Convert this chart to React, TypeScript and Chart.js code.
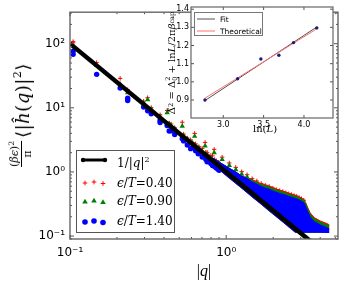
import React, { useEffect, useRef } from 'react';
import { Chart, registerables } from 'chart.js';

Chart.register(...registerables);

// ---------- main plot data ----------
const lineQ = [0.1, 4.441];
const lineV = [100, 0.0507];

const discQ = [0.1047, 0.1481, 0.2094, 0.2341, 0.2961, 0.3141, 0.3311, 0.3775, 0.4188, 0.4317, 0.4442, 0.4682, 0.5235, 0.5339, 0.5638, 0.5923, 0.6105, 0.6282, 0.6369, 0.6622, 0.6704, 0.7023, 0.7329, 0.7403, 0.755, 0.7622, 0.7974, 0.8177, 0.8441, 0.8634, 0.8884, 0.8946, 0.9007];
const discRed = [108, 50.7, 28.8, 19.2, 12.7, 14.4, 10.1, 7.8, 9.1, 5.8, 5.6, 4.9, 5.96, 3.9, 3.38, 3.17, 2.88, 3.99, 2.74, 2.45, 2.47, 2.33, 2.89, 2.03, 2.02, 1.85, 1.81, 1.78, 1.56, 1.5, 1.42, 1.4, 1.37];
const discGreen = [94.5, 46.0, 23.4, 17.2, 11.9, 13.4, 9.5, 7.3, 8.4, 5.6, 5.3, 4.75, 5.18, 3.65, 3.28, 2.97, 2.79, 3.6, 2.57, 2.37, 2.32, 2.11, 2.55, 1.9, 1.83, 1.79, 1.64, 1.56, 1.46, 1.4, 1.32, 1.3, 1.28];
const discBlue = [76.6, 33.3, 20.3, 14.1, 10.3, 9.0, 8.1, 6.4, 5.3, 4.35, 4.4, 3.84, 3.3, 3.05, 2.63, 2.31, 2.42, 2.45, 2.14, 1.92, 2.0, 1.71, 1.8, 1.58, 1.44, 1.55, 1.36, 1.26, 1.22, 1.15, 1.1, 1.12, 1.06];

const extraRedQ = [0.1047];
const extraRedV = [103];
const extraBlueQ = [0.1047, 0.2341, 0.3775];
const extraBlueV = [68.4, 13.0, 5.9];

const peakQ = [0.8376, 0.9423, 1.047, 1.152, 1.257, 1.361, 1.466, 1.571, 1.675, 1.78, 1.885, 1.99, 2.094, 2.199, 2.304, 2.408, 2.513, 2.618, 2.723, 2.827, 2.932, 3.037, 3.142];
const peakGreen = [2.0, 1.56, 1.268, 1.087, 0.923, 0.83, 0.722, 0.662, 0.607, 0.568, 0.545, 0.513, 0.487, 0.468, 0.454, 0.435, 0.419, 0.406, 0.393, 0.382, 0.366, 0.35, 0.332];
const peakRed = [2.25, 1.7, 1.38, 1.18, 1.01, 0.905, 0.787, 0.722, 0.662, 0.619, 0.594, 0.559, 0.531, 0.51, 0.495, 0.474, 0.457, 0.443, 0.428, 0.416, 0.399, 0.382, 0.362];

const bandQ = [0.8, 0.8376, 0.9423, 1.047, 1.152, 1.257, 1.361, 1.466, 1.571, 1.675, 1.78, 1.885, 1.99, 2.094, 2.199, 2.304, 2.408, 2.513, 2.618, 2.723, 2.78, 2.827, 2.932, 3.037, 3.142, 3.233, 3.33, 3.455, 3.665, 4.005, 4.441, 4.575];
const bandBlueTop = [1.62, 1.598, 1.332, 1.142, 0.997, 0.86, 0.788, 0.698, 0.644, 0.594, 0.558, 0.537, 0.505, 0.481, 0.463, 0.449, 0.432, 0.416, 0.403, 0.39, 0.384, 0.379, 0.364, 0.348, 0.33, 0.285, 0.239, 0.197, 0.168, 0.149, 0.134, 0.13];
const bandGreenTop = [1.62, 1.598, 1.332, 1.142, 0.997, 0.86, 0.802, 0.723, 0.674, 0.628, 0.603, 0.58, 0.545, 0.519, 0.5, 0.485, 0.467, 0.449, 0.435, 0.421, 0.415, 0.409, 0.393, 0.376, 0.356, 0.316, 0.265, 0.219, 0.186, 0.165, 0.149, 0.144];
const bandRedTop = [1.62, 1.598, 1.332, 1.142, 0.997, 0.86, 0.818, 0.756, 0.704, 0.656, 0.63, 0.606, 0.57, 0.542, 0.523, 0.507, 0.488, 0.469, 0.455, 0.44, 0.434, 0.427, 0.411, 0.393, 0.372, 0.33, 0.277, 0.229, 0.194, 0.172, 0.156, 0.15];
const bandBottom = [1.358, 1.238, 0.979, 0.793, 0.655, 0.55, 0.469, 0.404, 0.352, 0.31, 0.274, 0.2446, 0.2195, 0.1982, 0.1797, 0.1637, 0.1499, 0.1376, 0.1268, 0.1172, 0.1125, 0.1125, 0.1125, 0.1125, 0.1125, 0.1125, 0.1125, 0.1125, 0.1125, 0.1122, 0.112, 0.112];

const mainXTickVals = [0.1, 1];
const mainXTickLabels = ['10⁻¹', '10⁰'];
const mainYTickVals = [0.1, 1, 10, 100];
const mainYTickLabels = ['10⁻¹', '10⁰', '10¹', '10²'];
const epsLabels = ['0.40', '0.90', '1.40'];

// ---------- inset data ----------
const lnL = [2.773, 3.178, 3.466, 3.689, 3.871, 4.159];
const gapSq = [0.9, 1.017, 1.126, 1.146, 1.216, 1.297];
const fitX = [2.773, 4.159];
const fitY = [0.897, 1.302];
const theoX = [2.773, 4.159];
const theoY = [0.91, 1.292];
const insetXTickVals = [3.0, 3.5, 4.0];
const insetXTickLabels = ['3.0', '3.5', '4.0'];
const insetYTickVals = [0.9, 1.0, 1.1, 1.2, 1.3, 1.4];
const insetYTickLabels = ['0.9', '1.0', '1.1', '1.2', '1.3', '1.4'];

const zip = (xs: number[], ys: number[]) => xs.map((x, i) => ({ x, y: ys[i] }));
const labelFor = (v: number, vals: number[], labels: string[]) => {
  const i = vals.findIndex((t) => Math.abs(v - t) <= Math.abs(t) * 1e-6);
  return i >= 0 ? labels[i] : '';
};

const RED = '#ff0000';
const GREEN = '#008000';
const BLUE = '#0000ff';

const seg = (ctx: CanvasRenderingContext2D, x1: number, y1: number, x2: number, y2: number) => {
  ctx.beginPath();
  ctx.moveTo(x1, y1);
  ctx.lineTo(x2, y2);
  ctx.stroke();
};

const mainDecor = {
  id: 'mainDecor',
  afterDatasetsDraw(chart: any) {
    const { ctx, chartArea: a, scales } = chart;
    const xs = scales.x;
    const ys = scales.y;
    ctx.save();
    ctx.strokeStyle = '#555';
    ctx.lineWidth = 1;
    for (let e = -1; e <= 0; e++) {
      for (let m = 1; m <= 9; m++) {
        const v = m * Math.pow(10, e);
        if (v < 0.1 || v > 5.2) continue;
        const px = xs.getPixelForValue(v);
        const len = m === 1 ? 4 : 2;
        seg(ctx, px, a.bottom, px, a.bottom - len);
        seg(ctx, px, a.top, px, a.top + len);
      }
    }
    for (let e = -2; e <= 2; e++) {
      for (let m = 1; m <= 9; m++) {
        const v = m * Math.pow(10, e);
        if (v < 0.09 || v > 310) continue;
        const py = ys.getPixelForValue(v);
        const len = m === 1 ? 4 : 2;
        seg(ctx, a.left, py, a.left + len, py);
        seg(ctx, a.right, py, a.right - len, py);
      }
    }
    ctx.strokeStyle = '#666';
    ctx.lineWidth = 1.4;
    ctx.strokeRect(a.left, a.top, a.right - a.left, a.bottom - a.top);
    ctx.restore();
  },
  afterDraw(chart: any) {
    const { ctx } = chart;
    ctx.save();
    ctx.fillStyle = '#fff';
    ctx.fillRect(76, 150, 99, 83);
    ctx.strokeStyle = '#555';
    ctx.lineWidth = 1;
    ctx.strokeRect(76.5, 150.5, 98, 82);
    // 1/|q|^2 sample
    ctx.strokeStyle = '#000';
    ctx.lineWidth = 3;
    seg(ctx, 83, 160, 105, 160);
    ctx.fillStyle = '#000';
    [83, 105].forEach((x) => {
      ctx.beginPath();
      ctx.arc(x, 160, 2.2, 0, Math.PI * 2);
      ctx.fill();
    });
    const xsM = [85, 94, 103];
    const dy = [1, 0, 1.5];
    // red plus
    ctx.strokeStyle = RED;
    ctx.lineWidth = 1;
    xsM.forEach((x, i) => {
      const y = 182 + dy[i];
      seg(ctx, x - 2.3, y, x + 2.3, y);
      seg(ctx, x, y - 2.3, x, y + 2.3);
    });
    // green triangles
    ctx.fillStyle = GREEN;
    xsM.forEach((x, i) => {
      const y = 201 + dy[i];
      ctx.beginPath();
      ctx.moveTo(x, y - 3.2);
      ctx.lineTo(x + 2.8, y + 1.6);
      ctx.lineTo(x - 2.8, y + 1.6);
      ctx.closePath();
      ctx.fill();
    });
    // blue dots
    ctx.fillStyle = BLUE;
    xsM.forEach((x, i) => {
      const y = 221 + dy[i];
      ctx.beginPath();
      ctx.arc(x, y, 2.8, 0, Math.PI * 2);
      ctx.fill();
    });
    ctx.restore();
  },
};

const insetDecor = {
  id: 'insetDecor',
  beforeDatasetsDraw(chart: any) {
    const { ctx, chartArea: a } = chart;
    ctx.save();
    ctx.fillStyle = '#fff';
    ctx.fillRect(a.left, a.top, a.right - a.left, a.bottom - a.top);
    ctx.restore();
  },
  afterDatasetsDraw(chart: any) {
    const { ctx, chartArea: a, scales } = chart;
    ctx.save();
    ctx.strokeStyle = '#555';
    ctx.lineWidth = 1;
    insetXTickVals.forEach((v) => {
      const px = scales.x.getPixelForValue(v);
      seg(ctx, px, a.bottom, px, a.bottom - 3);
      seg(ctx, px, a.top, px, a.top + 3);
    });
    insetYTickVals.forEach((v) => {
      const py = scales.y.getPixelForValue(v);
      seg(ctx, a.left, py, a.left + 3, py);
      seg(ctx, a.right, py, a.right - 3, py);
    });
    ctx.strokeStyle = '#666';
    ctx.lineWidth = 1.2;
    ctx.strokeRect(a.left, a.top, a.right - a.left, a.bottom - a.top);
    ctx.restore();
  },
  afterDraw(chart: any) {
    const { ctx } = chart;
    ctx.save();
    ctx.fillStyle = '#fff';
    ctx.fillRect(194, 12, 69, 24);
    ctx.strokeStyle = '#777';
    ctx.lineWidth = 1;
    ctx.strokeRect(194.5, 12.5, 68, 23);
    ctx.strokeStyle = '#505050';
    seg(ctx, 197, 19, 215, 19);
    ctx.strokeStyle = '#ff7070';
    seg(ctx, 197, 31, 215, 31);
    ctx.restore();
  },
};

function mainConfig(): any {
  const pts = (style: string, color: string, radius: number, border: number) => ({
    showLine: false,
    pointStyle: style,
    pointRadius: radius,
    pointBackgroundColor: color,
    pointBorderColor: color,
    pointBorderWidth: border,
    clip: 0,
  });
  const band = (data: any, color: string, target: number | false, order: number) => ({
    data,
    borderColor: target === false ? 'rgba(0,0,0,0)' : color,
    borderWidth: 1,
    backgroundColor: color,
    pointRadius: 0,
    fill: target,
    tension: 0,
    order,
    clip: 0,
  });
  return {
    type: 'line',
    data: {
      datasets: [
        { data: zip(lineQ, lineV), borderColor: '#000', borderWidth: 4.5, pointRadius: 0, fill: false, order: 1, clip: 0 }, // 0
        { data: zip(discQ, discBlue), ...pts('circle', BLUE, 2.7, 0), order: 5 }, // 1
        { data: zip(extraBlueQ, extraBlueV), ...pts('circle', BLUE, 2.7, 0), order: 5 }, // 2
        band(zip(bandQ, bandBlueTop), BLUE, 4, 6), // 3
        band(zip(bandQ, bandBottom), BLUE, false, 6), // 4
        { data: zip(peakQ, peakGreen), ...pts('triangle', GREEN, 3.1, 0), order: 7 }, // 5
        { data: zip(discQ, discGreen), ...pts('triangle', GREEN, 3.1, 0), order: 7 }, // 6
        band(zip(bandQ, bandGreenTop), GREEN, 8, 8), // 7
        band(zip(bandQ, bandBottom), GREEN, false, 8), // 8
        { data: zip(peakQ, peakRed), ...pts('cross', RED, 2.2, 1), order: 9 }, // 9
        { data: zip(discQ, discRed), ...pts('cross', RED, 2.2, 1), order: 9 }, // 10
        { data: zip(extraRedQ, extraRedV), ...pts('cross', RED, 2.2, 1), order: 9 }, // 11
        band(zip(bandQ, bandRedTop), RED, 13, 10), // 12
        band(zip(bandQ, bandBottom), RED, false, 10), // 13
      ],
    },
    options: {
      responsive: false,
      animation: false,
      events: [],
      layout: { padding: { left: 0, right: 11, top: 6, bottom: 0 } },
      plugins: { legend: { display: false }, tooltip: { enabled: false }, filler: { propagate: false } },
      scales: {
        x: {
          type: 'logarithmic',
          min: 0.1,
          max: 5.2,
          grid: { display: false, drawTicks: false },
          border: { display: false },
          ticks: {
            autoSkip: false,
            maxRotation: 0,
            padding: 7,
            color: '#000',
            font: { family: '"DejaVu Sans", sans-serif', size: 12 },
            callback: (v: number) => labelFor(v, mainXTickVals, mainXTickLabels),
          },
          afterFit: (s: any) => {
            s.height = 51;
          },
        },
        y: {
          type: 'logarithmic',
          min: 0.09,
          max: 310,
          grid: { display: false, drawTicks: false },
          border: { display: false },
          ticks: {
            autoSkip: false,
            padding: 5,
            color: '#000',
            font: { family: '"DejaVu Sans", sans-serif', size: 12 },
            callback: (v: number) => labelFor(v, mainYTickVals, mainYTickLabels),
          },
          afterFit: (s: any) => {
            s.width = 70;
          },
        },
      },
    },
    plugins: [mainDecor],
  };
}

function insetConfig(): any {
  return {
    type: 'line',
    data: {
      datasets: [
        { data: zip(lnL, gapSq), showLine: false, pointRadius: 1.7, pointBackgroundColor: '#1c1c78', pointBorderWidth: 0, order: 1 },
        { data: zip(theoX, theoY), borderColor: '#ff7070', borderWidth: 1, pointRadius: 0, fill: false, order: 2 },
        { data: zip(fitX, fitY), borderColor: '#505050', borderWidth: 1, pointRadius: 0, fill: false, order: 3 },
      ],
    },
    options: {
      responsive: false,
      animation: false,
      events: [],
      layout: { padding: { left: 150, right: 16, top: 7, bottom: 158 } },
      plugins: { legend: { display: false }, tooltip: { enabled: false } },
      scales: {
        x: {
          type: 'linear',
          min: 2.6,
          max: 4.36,
          grid: { display: false, drawTicks: false },
          border: { display: false },
          ticks: {
            stepSize: 0.5,
            includeBounds: false,
            autoSkip: false,
            maxRotation: 0,
            padding: 2,
            color: '#000',
            font: { family: '"DejaVu Sans", sans-serif', size: 8 },
            callback: (v: number) => labelFor(v, insetXTickVals, insetXTickLabels),
          },
          afterFit: (s: any) => {
            s.height = 14;
          },
        },
        y: {
          type: 'linear',
          min: 0.801,
          max: 1.412,
          grid: { display: false, drawTicks: false },
          border: { display: false },
          ticks: {
            stepSize: 0.1,
            includeBounds: false,
            autoSkip: false,
            padding: 2,
            color: '#000',
            font: { family: '"DejaVu Sans", sans-serif', size: 8 },
            callback: (v: number) => labelFor(v, insetYTickVals, insetYTickLabels),
          },
          afterFit: (s: any) => {
            s.width = 41;
          },
        },
      },
    },
    plugins: [insetDecor],
  };
}

const abs: React.CSSProperties = { position: 'absolute', whiteSpace: 'nowrap', color: '#000', pointerEvents: 'none' };
const serif = '"DejaVu Serif", serif';

export default function App() {
  const mainRef = useRef<HTMLCanvasElement>(null);
  const insetRef = useRef<HTMLCanvasElement>(null);

  useEffect(() => {
    const c1 = new Chart(mainRef.current as HTMLCanvasElement, mainConfig());
    const c2 = new Chart(insetRef.current as HTMLCanvasElement, insetConfig());
    return () => {
      c1.destroy();
      c2.destroy();
    };
  }, []);

  const legendRows = [182.5, 201, 221];

  return (
    <div style={{ position: 'fixed', left: 0, top: 0, width: 349, height: 290, background: '#fff', overflow: 'hidden' }}>
      <canvas ref={mainRef} width={349} height={290} style={{ position: 'absolute', left: 0, top: 0 }} />
      <canvas ref={insetRef} width={349} height={290} style={{ position: 'absolute', left: 0, top: 0 }} />

      {/* main y title */}
      <div
        style={{
          ...abs,
          left: 20,
          top: 115,
          transform: 'translate(-50%,-50%) rotate(-90deg)',
          display: 'flex',
          alignItems: 'center',
          fontFamily: serif,
        }}
      >
        <div style={{ display: 'flex', flexDirection: 'column', alignItems: 'center', fontSize: 11, lineHeight: '12px', marginRight: 3 }}>
          <span>
            (<i>βϵ</i>)<span style={{ fontSize: 7.5, verticalAlign: '4px' }}>2</span>
          </span>
          <span style={{ borderTop: '1px solid #000', alignSelf: 'stretch', textAlign: 'center' }}>π</span>
        </div>
        <span style={{ fontSize: 18, lineHeight: '22px', letterSpacing: 0.5 }}>
          ⟨|<i>ĥ</i>(<i>q</i>)|<span style={{ fontSize: 11, verticalAlign: '8px' }}>2</span>⟩
        </span>
      </div>

      {/* main x title */}
      <div style={{ ...abs, left: 204, top: 271, transform: 'translate(-50%,-50%)', fontFamily: '"Liberation Serif", serif', fontSize: 16, lineHeight: '18px' }}>
        |<i>q</i>|
      </div>

      {/* main legend texts */}
      <div style={{ ...abs, left: 117, top: 161, transform: 'translateY(-50%)', fontFamily: serif, fontSize: 12, lineHeight: '14px' }}>
        1/|<i>q</i>|<span style={{ fontSize: 8, verticalAlign: '5px' }}>2</span>
      </div>
      {epsLabels.map((t, i) => (
        <div key={t} style={{ ...abs, left: 117, top: legendRows[i], transform: 'translateY(-50%)', fontFamily: serif, fontSize: 12, lineHeight: '14px' }}>
          <i>ϵ</i>/<i>T</i>={t}
        </div>
      ))}

      {/* inset y title */}
      <div
        style={{
          ...abs,
          left: 171,
          top: 63,
          transform: 'translate(-50%,-50%) rotate(-90deg)',
          fontFamily: serif,
          fontSize: 10,
          lineHeight: '12px',
          display: 'flex',
          alignItems: 'center',
        }}
      >
        <span>Δ̃</span>
        <span style={{ fontSize: 6.5, alignSelf: 'flex-start' }}>2</span>
        <span>&nbsp;=&nbsp;Δ</span>
        <span style={{ display: 'inline-flex', flexDirection: 'column', fontSize: 6.5, lineHeight: '6.5px' }}>
          <span>2</span>
          <span>0</span>
        </span>
        <span>&nbsp;+&nbsp;ln<i>L</i>/2π<i>β</i></span>
        <span style={{ fontSize: 6.5, alignSelf: 'flex-end' }}>cap</span>
      </div>

      {/* inset x title */}
      <div style={{ ...abs, left: 265, top: 128.5, transform: 'translate(-50%,-50%)', fontFamily: serif, fontSize: 10, lineHeight: '12px' }}>
        ln(<i>L</i>)
      </div>

      {/* inset legend texts */}
      <div style={{ ...abs, left: 220, top: 19, transform: 'translateY(-50%)', fontFamily: '"DejaVu Sans", sans-serif', fontSize: 7.5, lineHeight: '9px' }}>Fit</div>
      <div style={{ ...abs, left: 220, top: 31, transform: 'translateY(-50%)', fontFamily: '"DejaVu Sans", sans-serif', fontSize: 7.5, lineHeight: '9px' }}>Theoretical</div>
    </div>
  );
}
